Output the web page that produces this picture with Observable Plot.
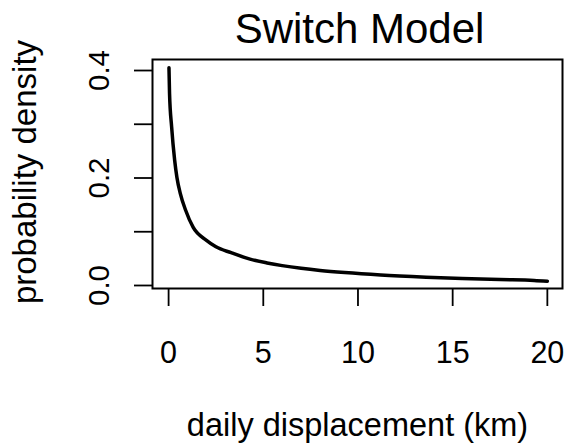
<!DOCTYPE html>
<html>
<head>
<meta charset="utf-8">
<script src="https://cdn.jsdelivr.net/npm/d3@7"></script>
<script src="https://cdn.jsdelivr.net/npm/@observablehq/plot@0.6"></script>
<style>
  html, body { margin: 0; padding: 0; background: #fff; }
  svg { display: block; font-family: "Liberation Sans", Arial, Helvetica, sans-serif; }
</style>
</head>
<body>
<div id="chart"></div>
<script>
// Curve (daily displacement in km vs probability density)
const displacement = [0.02, 0.05, 0.16, 0.32, 0.44, 0.62, 0.9, 1.3, 2.0, 2.5, 3.3, 4.3, 5.2, 6.0, 7.0, 8.0, 9.3, 11.2, 13.6, 15.5, 17.5, 19.3, 20.0];
const density      = [0.405, 0.357, 0.295, 0.233, 0.201, 0.171, 0.140, 0.108, 0.084, 0.072, 0.061, 0.049, 0.042, 0.037, 0.032, 0.028, 0.024, 0.0195, 0.0155, 0.013, 0.011, 0.0095, 0.008];

const xTicks = [0, 5, 10, 15, 20];
const yTicks = [0, 0.1, 0.2, 0.3, 0.4];
const yTickLabels = [0, 0.2, 0.4];

const titleText = "Switch Model";
const xTitle = "daily displacement (km)";
const yTitle = "probability density";

const data = displacement.map((x, i) => ({x, y: density[i]}));

const chart = Plot.plot({
  width: 569,
  height: 447,
  marginLeft: 152,
  marginRight: 7,
  marginTop: 59,
  marginBottom: 159,
  style: {fontFamily: '"Liberation Sans", Arial, Helvetica, sans-serif', background: "#fff", overflow: "visible"},
  x: {domain: [-0.85, 20.8], axis: null},
  y: {domain: [-0.0056, 0.4205], axis: null},
  marks: [
    Plot.frame({stroke: "black", strokeWidth: 2}),
    Plot.axisX({ticks: xTicks, tickSize: 18, tickFormat: () => "", label: null, stroke: "black", strokeWidth: 1.8, anchor: "bottom"}),
    Plot.axisY({ticks: yTicks, tickSize: 18, tickFormat: () => "", label: null, stroke: "black", strokeWidth: 1.8, anchor: "left"}),
    Plot.text(xTicks, {x: d => d, text: d => String(d), frameAnchor: "bottom", dy: 74, lineAnchor: "bottom", fontSize: 30.5, fill: "black"}),
    Plot.text(yTickLabels, {y: d => d, text: d => d.toFixed(1), frameAnchor: "left", dx: -44, rotate: -90, lineAnchor: "bottom", textAnchor: "middle", fontSize: 29.5, fill: "black"}),
    Plot.line(data, {x: "x", y: "y", stroke: "black", strokeWidth: 3.5, strokeLinejoin: "round", curve: "monotone-x"}),
    Plot.text([titleText], {frameAnchor: "top", dy: -17, dx: 2, lineAnchor: "bottom", textAnchor: "middle", fontSize: 42, fill: "black"}),
    Plot.text([xTitle], {frameAnchor: "bottom", dy: 147, lineAnchor: "bottom", textAnchor: "middle", fontSize: 32.5, fill: "black"}),
    Plot.text([yTitle], {frameAnchor: "left", dx: -117, dy: -2, rotate: -90, lineAnchor: "bottom", textAnchor: "middle", fontSize: 33, fill: "black"})
  ]
});
document.getElementById("chart").appendChild(chart);
</script>
</body>
</html>
